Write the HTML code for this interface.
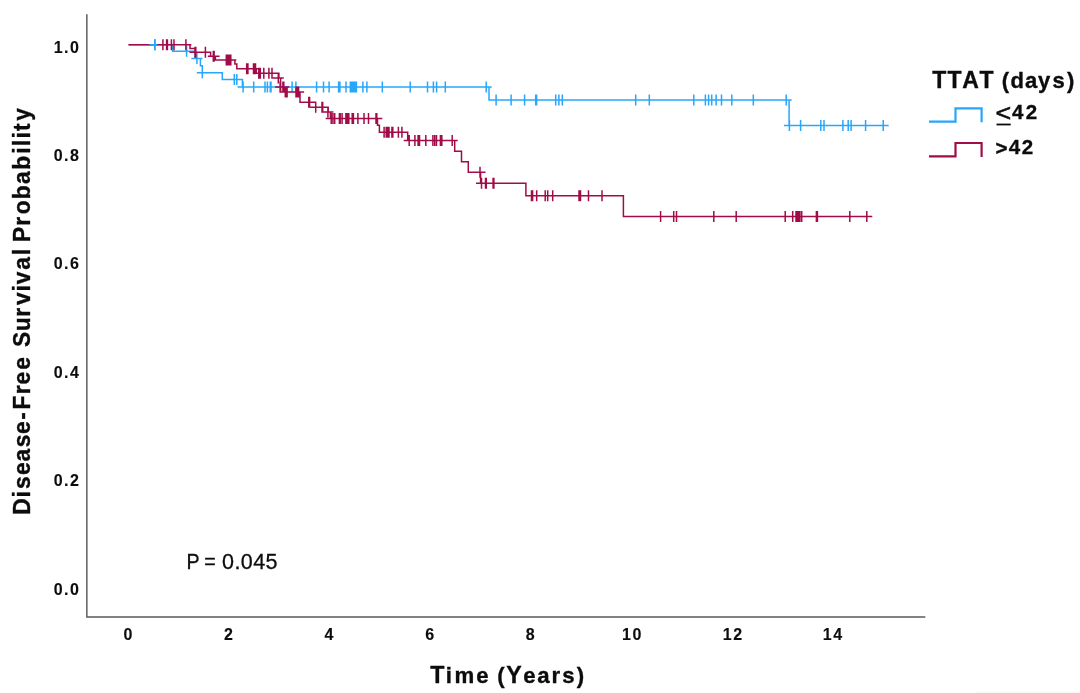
<!DOCTYPE html>
<html lang="en">
<head>
<meta charset="utf-8">
<title>Disease-Free Survival by TTAT</title>
<style>
html,body{margin:0;padding:0;background:#fff;}
body{width:1080px;height:693px;overflow:hidden;position:relative;font-family:'Liberation Sans', sans-serif;}
svg{position:absolute;left:0;top:0;display:block;}
text{font-family:'Liberation Sans', sans-serif;fill:#0c0c0c;}
.b{font-weight:bold;}
</style>
</head>
<body>
<svg width="1080" height="693" viewBox="0 0 1080 693">
<rect width="1080" height="693" fill="#ffffff"/>
<rect x="976" y="691.3" width="104" height="1.7" fill="#fafafa"/>
<path d="M86.85 14.3V616.95H925.3" fill="none" stroke="#595959" stroke-width="1.45"/>
<path d="M128.5 44.80 L172.7 44.80 L172.7 51.30 L195.3 51.30 L195.3 58.60 L200.4 58.60 L200.4 65.80 L202.3 65.80 L202.3 72.70 L222.3 72.70 L222.3 79.40 L242.4 79.40 L242.4 87.05 L489.0 87.05 L489.0 100.00 L789.1 100.00 L789.1 125.40 L883.2 125.40M149.4 44.80H160.4M154.9 39.30V50.30M181.1 51.30H192.1M186.6 45.80V56.80M191.4 58.60H202.4M196.9 53.10V64.10M196.8 72.70H207.8M202.3 67.20V78.20M228.8 79.40H239.8M234.3 73.90V84.90M231.3 79.40H242.3M236.8 73.90V84.90M237.6 87.05H248.6M243.1 81.55V92.55M248.2 87.05H259.2M253.7 81.55V92.55M259.5 87.05H270.5M265.0 81.55V92.55M261.9 87.05H272.9M267.4 81.55V92.55M264.8 87.05H275.8M270.3 81.55V92.55M265.5 87.05H276.5M271.0 81.55V92.55M274.3 87.05H285.3M279.8 81.55V92.55M286.6 87.05H297.6M292.1 81.55V92.55M290.4 87.05H301.4M295.9 81.55V92.55M311.1 87.05H322.1M316.6 81.55V92.55M318.0 87.05H329.0M323.5 81.55V92.55M323.6 87.05H334.6M329.1 81.55V92.55M333.1 87.05H344.1M338.6 81.55V92.55M334.4 87.05H345.4M339.9 81.55V92.55M340.5 87.05H351.5M346.0 81.55V92.55M344.8 87.05H355.8M350.3 81.55V92.55M346.1 87.05H357.1M351.6 81.55V92.55M347.4 87.05H358.4M352.9 81.55V92.55M348.7 87.05H359.7M354.2 81.55V92.55M349.9 87.05H360.9M355.4 81.55V92.55M350.9 87.05H361.9M356.4 81.55V92.55M357.4 87.05H368.4M362.9 81.55V92.55M361.4 87.05H372.4M366.9 81.55V92.55M376.8 87.05H387.8M382.3 81.55V92.55M404.7 87.05H415.7M410.2 81.55V92.55M422.0 87.05H433.0M427.5 81.55V92.55M427.9 87.05H438.9M433.4 81.55V92.55M431.1 87.05H442.1M436.6 81.55V92.55M439.8 87.05H450.8M445.3 81.55V92.55M480.7 87.05H491.7M486.2 81.55V92.55M490.6 100.00H501.6M496.1 94.50V105.50M505.6 100.00H516.6M511.1 94.50V105.50M519.1 100.00H530.1M524.6 94.50V105.50M530.2 100.00H541.2M535.7 94.50V105.50M531.1 100.00H542.1M536.6 94.50V105.50M550.2 100.00H561.2M555.7 94.50V105.50M553.4 100.00H564.4M558.9 94.50V105.50M556.8 100.00H567.8M562.3 94.50V105.50M630.2 100.00H641.2M635.7 94.50V105.50M643.8 100.00H654.8M649.3 94.50V105.50M688.3 100.00H699.3M693.8 94.50V105.50M699.9 100.00H710.9M705.4 94.50V105.50M703.1 100.00H714.1M708.6 94.50V105.50M706.2 100.00H717.2M711.7 94.50V105.50M710.6 100.00H721.6M716.1 94.50V105.50M716.0 100.00H727.0M721.5 94.50V105.50M726.3 100.00H737.3M731.8 94.50V105.50M747.8 100.00H758.8M753.3 94.50V105.50M780.7 100.00H791.7M786.2 94.50V105.50M783.9 125.40H794.9M789.4 119.90V130.90M795.1 125.40H806.1M800.6 119.90V130.90M815.3 125.40H826.3M820.8 119.90V130.90M818.5 125.40H829.5M824.0 119.90V130.90M837.4 125.40H848.4M842.9 119.90V130.90M842.7 125.40H853.7M848.2 119.90V130.90M845.6 125.40H856.6M851.1 119.90V130.90M860.1 125.40H871.1M865.6 119.90V130.90M877.7 125.40H888.7M883.2 119.90V130.90" fill="none" stroke="#28a6fc" stroke-width="1.5" stroke-linejoin="miter"/>
<path d="M128.5 44.80 L190.0 44.80 L190.0 48.50 L195.3 48.50 L195.3 52.30 L210.6 52.30 L210.6 56.20 L215.4 56.20 L215.4 60.10 L234.9 60.10 L234.9 63.90 L236.8 63.90 L236.8 68.70 L256.3 68.70 L256.3 73.20 L278.9 73.20 L278.9 77.90 L280.6 77.90 L280.6 87.05 L285.0 87.05 L285.0 91.90 L300.0 91.90 L300.0 102.30 L315.7 102.30 L315.7 107.30 L328.2 107.30 L328.2 112.00 L330.4 112.00 L330.4 118.40 L377.5 118.40 L377.5 125.30 L379.4 125.30 L379.4 132.20 L407.7 132.20 L407.7 140.40 L454.7 140.40 L454.7 151.20 L461.5 151.20 L461.5 161.70 L468.3 161.70 L468.3 172.20 L480.6 172.20 L480.6 183.20 L525.9 183.20 L525.9 195.80 L623.4 195.80 L623.4 216.40 L866.8 216.40M157.4 44.80H168.4M162.9 39.30V50.30M161.1 44.80H172.1M166.6 39.30V50.30M161.9 44.80H172.9M167.4 39.30V50.30M165.9 44.80H176.9M171.4 39.30V50.30M168.5 44.80H179.5M174.0 39.30V50.30M180.4 44.80H191.4M185.9 39.30V50.30M189.5 52.30H200.5M195.0 46.80V57.80M190.3 52.30H201.3M195.8 46.80V57.80M199.9 52.30H210.9M205.4 46.80V57.80M207.8 56.20H218.8M213.3 50.70V61.70M208.6 56.20H219.6M214.1 50.70V61.70M220.8 60.10H231.8M226.3 54.60V65.60M221.6 60.10H232.6M227.1 54.60V65.60M223.1 60.10H234.1M228.6 54.60V65.60M224.5 60.10H235.5M230.0 54.60V65.60M225.3 60.10H236.3M230.8 54.60V65.60M241.2 68.70H252.2M246.7 63.20V74.20M242.4 68.70H253.4M247.9 63.20V74.20M248.0 68.70H259.0M253.5 63.20V74.20M249.1 68.70H260.1M254.6 63.20V74.20M250.0 68.70H261.0M255.5 63.20V74.20M253.3 73.20H264.3M258.8 67.70V78.70M254.8 73.20H265.8M260.3 67.70V78.70M258.3 73.20H269.3M263.8 67.70V78.70M263.4 73.20H274.4M268.9 67.70V78.70M266.5 73.20H277.5M272.0 67.70V78.70M272.8 77.90H283.8M278.3 72.40V83.40M275.1 87.05H286.1M280.6 81.55V92.55M277.4 87.05H288.4M282.9 81.55V92.55M278.3 87.05H289.3M283.8 81.55V92.55M279.8 91.90H290.8M285.3 86.40V97.40M280.8 91.90H291.8M286.3 86.40V97.40M281.6 91.90H292.6M287.1 86.40V97.40M290.5 91.90H301.5M296.0 86.40V97.40M291.8 91.90H302.8M297.3 86.40V97.40M293.1 91.90H304.1M298.6 86.40V97.40M303.3 102.30H314.3M308.8 96.80V107.80M304.1 102.30H315.1M309.6 96.80V107.80M310.2 107.30H321.2M315.7 101.80V112.80M316.5 107.30H327.5M322.0 101.80V112.80M317.2 107.30H328.2M322.7 101.80V112.80M322.4 112.00H333.4M327.9 106.50V117.50M325.7 118.40H336.7M331.2 112.90V123.90M327.4 118.40H338.4M332.9 112.90V123.90M329.2 118.40H340.2M334.7 112.90V123.90M333.9 118.40H344.9M339.4 112.90V123.90M334.7 118.40H345.7M340.2 112.90V123.90M336.6 118.40H347.6M342.1 112.90V123.90M340.4 118.40H351.4M345.9 112.90V123.90M341.5 118.40H352.5M347.0 112.90V123.90M342.6 118.40H353.6M348.1 112.90V123.90M343.3 118.40H354.3M348.8 112.90V123.90M346.7 118.40H357.7M352.2 112.90V123.90M347.9 118.40H358.9M353.4 112.90V123.90M352.4 118.40H363.4M357.9 112.90V123.90M358.5 118.40H369.5M364.0 112.90V123.90M363.0 118.40H374.0M368.5 112.90V123.90M370.5 118.40H381.5M376.0 112.90V123.90M371.3 118.40H382.3M376.8 112.90V123.90M378.6 132.20H389.6M384.1 126.70V137.70M380.7 132.20H391.7M386.2 126.70V137.70M382.2 132.20H393.2M387.7 126.70V137.70M383.5 132.20H394.5M389.0 126.70V137.70M386.4 132.20H397.4M391.9 126.70V137.70M387.3 132.20H398.3M392.8 126.70V137.70M392.9 132.20H403.9M398.4 126.70V137.70M396.4 132.20H407.4M401.9 126.70V137.70M403.7 140.40H414.7M409.2 134.90V145.90M409.4 140.40H420.4M414.9 134.90V145.90M412.6 140.40H423.6M418.1 134.90V145.90M414.0 140.40H425.0M419.5 134.90V145.90M420.3 140.40H431.3M425.8 134.90V145.90M427.4 140.40H438.4M432.9 134.90V145.90M429.2 140.40H440.2M434.7 134.90V145.90M431.0 140.40H442.0M436.5 134.90V145.90M434.9 140.40H445.9M440.4 134.90V145.90M436.3 140.40H447.3M441.8 134.90V145.90M446.7 140.40H457.7M452.2 134.90V145.90M474.5 172.20H485.5M480.0 166.70V177.70M476.0 183.20H487.0M481.5 177.70V188.70M480.0 183.20H491.0M485.5 177.70V188.70M480.8 183.20H491.8M486.3 177.70V188.70M487.6 183.20H498.6M493.1 177.70V188.70M488.4 183.20H499.4M493.9 177.70V188.70M526.0 195.80H537.0M531.5 190.30V201.30M527.1 195.80H538.1M532.6 190.30V201.30M531.2 195.80H542.2M536.7 190.30V201.30M539.7 195.80H550.7M545.2 190.30V201.30M542.2 195.80H553.2M547.7 190.30V201.30M547.2 195.80H558.2M552.7 190.30V201.30M573.5 195.80H584.5M579.0 190.30V201.30M575.0 195.80H586.0M580.5 190.30V201.30M583.0 195.80H594.0M588.5 190.30V201.30M596.5 195.80H607.5M602.0 190.30V201.30M655.1 216.40H666.1M660.6 210.90V221.90M668.2 216.40H679.2M673.7 210.90V221.90M671.0 216.40H682.0M676.5 210.90V221.90M708.3 216.40H719.3M713.8 210.90V221.90M730.7 216.40H741.7M736.2 210.90V221.90M779.7 216.40H790.7M785.2 210.90V221.90M787.2 216.40H798.2M792.7 210.90V221.90M790.5 216.40H801.5M796.0 210.90V221.90M791.8 216.40H802.8M797.3 210.90V221.90M793.1 216.40H804.1M798.6 210.90V221.90M794.4 216.40H805.4M799.9 210.90V221.90M796.2 216.40H807.2M801.7 210.90V221.90M810.9 216.40H821.9M816.4 210.90V221.90M811.9 216.40H822.9M817.4 210.90V221.90M844.3 216.40H855.3M849.8 210.90V221.90M861.3 216.40H872.3M866.8 210.90V221.90" fill="none" stroke="#a10c48" stroke-width="1.5" stroke-linejoin="miter"/>
<path d="M149.4 44.8H157.2M154.9 39.3V50.3" fill="none" stroke="#28a6fc" stroke-width="1.5"/>
<text class="b" transform="translate(53.65 52.5) scale(1 1)" font-size="16.0" letter-spacing="1.5" stroke="#0c0c0c" stroke-width="0.12">1.0</text>
<text class="b" transform="translate(53.65 160.9) scale(1 1)" font-size="16.0" letter-spacing="1.5" stroke="#0c0c0c" stroke-width="0.12">0.8</text>
<text class="b" transform="translate(53.65 269.3) scale(1 1)" font-size="16.0" letter-spacing="1.5" stroke="#0c0c0c" stroke-width="0.12">0.6</text>
<text class="b" transform="translate(53.65 377.7) scale(1 1)" font-size="16.0" letter-spacing="1.5" stroke="#0c0c0c" stroke-width="0.12">0.4</text>
<text class="b" transform="translate(53.65 486.1) scale(1 1)" font-size="16.0" letter-spacing="1.5" stroke="#0c0c0c" stroke-width="0.12">0.2</text>
<text class="b" transform="translate(53.65 594.5) scale(1 1)" font-size="16.0" letter-spacing="1.5" stroke="#0c0c0c" stroke-width="0.12">0.0</text>
<text class="b" transform="translate(123.4 639.8) scale(1 1)" font-size="16.0" letter-spacing="1.6" stroke="#0c0c0c" stroke-width="0.12">0</text>
<text class="b" transform="translate(224.1 639.8) scale(1 1)" font-size="16.0" letter-spacing="1.6" stroke="#0c0c0c" stroke-width="0.12">2</text>
<text class="b" transform="translate(324.4 639.8) scale(1 1)" font-size="16.0" letter-spacing="1.6" stroke="#0c0c0c" stroke-width="0.12">4</text>
<text class="b" transform="translate(425.2 639.8) scale(1 1)" font-size="16.0" letter-spacing="1.6" stroke="#0c0c0c" stroke-width="0.12">6</text>
<text class="b" transform="translate(525.7 639.8) scale(1 1)" font-size="16.0" letter-spacing="1.6" stroke="#0c0c0c" stroke-width="0.12">8</text>
<text class="b" transform="translate(622.1 639.8) scale(1 1)" font-size="16.0" letter-spacing="1.6" stroke="#0c0c0c" stroke-width="0.12">10</text>
<text class="b" transform="translate(722.7 639.8) scale(1 1)" font-size="16.0" letter-spacing="1.6" stroke="#0c0c0c" stroke-width="0.12">12</text>
<text class="b" transform="translate(822.7 639.8) scale(1 1)" font-size="16.0" letter-spacing="1.6" stroke="#0c0c0c" stroke-width="0.12">14</text>
<text class="b" x="430.21 445.68 454.49 476.27 488.62 497.19 506.35 523.27 537.28 551.47 562.14 576.75" y="682.8" font-size="22.2" stroke="#0c0c0c" stroke-width="0.35"><tspan font-size="23.20">T</tspan>ime (<tspan font-size="23.20">Y</tspan>ears)</text>
<text class="b" transform="translate(30.0 0) scale(1.05 1) rotate(-90)" x="-514.82 -497.41 -489.02 -475.05 -461.45 -447.37 -433.90 -419.79 -409.51 -394.17 -384.60 -369.70 -357.02 -347.04 -331.22 -316.77 -305.03 -291.41 -284.23 -269.85 -255.21 -248.87 -242.13 -225.67 -214.21 -199.30 -184.10 -169.70 -153.76 -146.21 -138.61 -130.95 -120.82" y="0" font-size="22.8" stroke="#0c0c0c" stroke-width="0.35">Disease-Free Survival Probability</text>
<text transform="translate(186.5 569.2) scale(0.88 1)" font-size="22.3" letter-spacing="0" stroke="#0c0c0c" stroke-width="0.3">P <tspan dx="-0.6">=</tspan></text>
<text transform="translate(222.1 569.2) scale(0.965 1)" font-size="22.3" letter-spacing="0.4" stroke="#0c0c0c" stroke-width="0.3">0.045</text>
<text class="b" x="932.22 947.62 962.27 979.62 993.06 1001.65 1010.60 1024.89 1038.06 1052.55 1067.02" y="87.6" font-size="22.0" stroke="#0c0c0c" stroke-width="0.35"><tspan font-size="22.99">TTAT</tspan> (days)</text>
<path d="M929 121.7H955.5V108.4H981.6V122.3" fill="none" stroke="#28a6fc" stroke-width="2.2"/>
<path d="M929 156.4H955.5V143.0H981.6V157.0" fill="none" stroke="#a10c48" stroke-width="2.2"/>
<text transform="translate(995.6 121.0) scale(1.12 1)" font-size="24.0" letter-spacing="0" stroke="#0c0c0c" stroke-width="0.6">&lt;</text>
<path d="M996.5 124.5H1010.7" stroke="#0c0c0c" stroke-width="1.8" fill="none"/>
<text class="b" x="1011.95 1025.75" y="119.2" font-size="20.5" stroke="#0c0c0c" stroke-width="0.35">42</text>
<text class="b" dy="1.2 -1.2 0" x="995.40 1008.75 1021.80" y="153.7" font-size="20.5" stroke="#0c0c0c" stroke-width="0.35">&gt;42</text>
</svg>
</body>
</html>
